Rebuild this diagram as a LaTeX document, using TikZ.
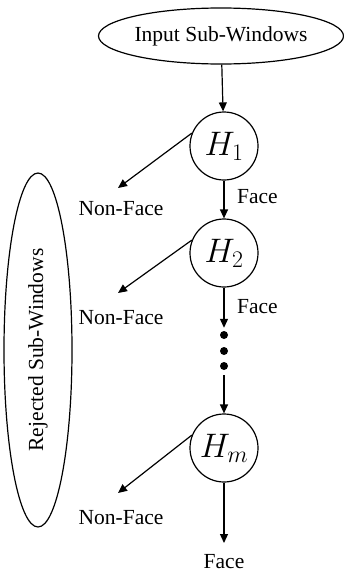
\documentclass[tikz,border=0pt]{standalone}
\usepackage{fix-cm}
\usepackage{fontspec}
\setmainfont{Liberation Serif}
\usetikzlibrary{arrows.meta,shapes.geometric}
\begin{document}
\begin{tikzpicture}[x=1pt,y=-1pt,
  lbl/.style={font=\fontsize{21.5}{26}\selectfont, inner sep=0pt},
  stage/.style={circle,draw,line width=1.2pt,minimum size=68pt,inner sep=0pt,font=\fontsize{34}{40}\selectfont},
  oval/.style={ellipse,draw,line width=1.2pt,inner sep=0pt,font=\fontsize{21.5}{26}\selectfont},
  arr/.style={line width=1.2pt,-{Triangle[length=9pt,width=8pt]}},
  dotn/.style={circle,fill,inner sep=0pt,minimum size=8pt}]
\useasboundingbox (0,0) rectangle (343,573);
\node[oval,minimum width=245pt,minimum height=56pt] (in) at (221,36) {Input Sub-Windows};
\node[oval,minimum width=354pt,minimum height=68pt,rotate=90] (rej) at (38,350) {Rejected Sub-Windows};
\node[stage] (h1) at (224,146) {$H_1$};
\node[stage] (h2) at (224,253) {$H_2$};
\node[stage] (hm) at (224,448) {$H_m$};
\node[dotn] (d1) at (224,335) {};
\node[dotn] (d2) at (224,351) {};
\node[dotn] (d3) at (224,366) {};
\coordinate (n1) at (118,188);
\coordinate (n2) at (118,293);
\coordinate (n3) at (118,493);
\coordinate (fe) at (224,543);
\node[lbl] (nf1) at (121,209) {Non-Face};
\node[lbl] (nf2) at (121,318) {Non-Face};
\node[lbl] (nf3) at (121,518) {Non-Face};
\node[lbl,anchor=west] (f1) at (237,197) {Face};
\node[lbl,anchor=west] (f2) at (237,307) {Face};
\node[lbl] (f3) at (224,562) {Face};
\draw[arr] (in) -- (h1);
\draw[arr] (h1) -- (h2);
\draw[arr,shorten >=3pt] (h2) -- (d1);
\draw[arr,shorten <=5pt] (d3) -- (hm);
\draw[arr] (hm) -- (fe);
\draw[arr] (h1.158) -- (n1);
\draw[arr] (h2.158) -- (n2);
\draw[arr] (hm.158) -- (n3);
\end{tikzpicture}
\end{document}
